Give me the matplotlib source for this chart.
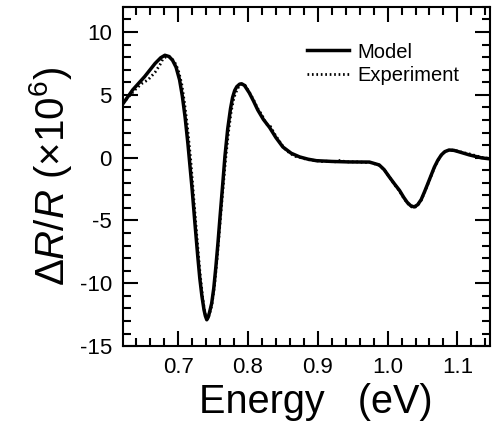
import matplotlib
matplotlib.use('Agg')
import matplotlib.pyplot as plt
from matplotlib.ticker import MultipleLocator

plt.rcParams['font.family'] = ['Liberation Sans', 'DejaVu Sans']
plt.rcParams['mathtext.fontset'] = 'custom'
plt.rcParams['mathtext.rm'] = 'Liberation Sans'
plt.rcParams['mathtext.it'] = 'Liberation Sans:italic'
plt.rcParams['axes.unicode_minus'] = False

# model curve (eV, dR/R x1e6)
energy_model = [0.621, 0.635, 0.652, 0.667, 0.675, 0.681, 0.687, 0.692, 0.697, 0.702,
                0.706, 0.710, 0.714, 0.720, 0.724, 0.728, 0.731, 0.734, 0.737, 0.739,
                0.741, 0.743, 0.745, 0.748, 0.751, 0.754, 0.757, 0.760, 0.764, 0.767,
                0.771, 0.775, 0.778, 0.781, 0.784, 0.788, 0.791, 0.795, 0.802, 0.808,
                0.814, 0.822, 0.831, 0.840, 0.850, 0.862, 0.874, 0.886, 0.898, 0.920,
                0.945, 0.974, 0.988, 0.995, 1.002, 1.010, 1.017, 1.023, 1.028, 1.033,
                1.038, 1.043, 1.048, 1.053, 1.057, 1.062, 1.067, 1.072, 1.077, 1.082,
                1.088, 1.095, 1.102, 1.117, 1.135, 1.147]
dr_model = [4.3, 5.4, 6.45, 7.5, 7.95, 8.15, 8.05, 7.75, 7.2, 6.2,
            4.9, 3.2, 1.1, -2.5, -5.2, -7.8, -9.6, -11.0, -12.1, -12.6,
            -12.9, -12.7, -12.3, -11.6, -10.4, -8.7, -6.8, -4.7, -2.0, 0.1,
            2.3, 3.9, 4.8, 5.35, 5.65, 5.85, 5.88, 5.75, 5.15, 4.5,
            3.8, 3.05, 2.4, 1.6, 0.85, 0.35, 0.06, -0.12, -0.24, -0.3,
            -0.34, -0.35, -0.58, -0.95, -1.5, -2.1, -2.6, -3.15, -3.55, -3.82,
            -3.92, -3.75, -3.35, -2.7, -2.15, -1.45, -0.75, -0.2, 0.22, 0.48,
            0.61, 0.58, 0.47, 0.22, -0.02, -0.1]

# experimental data
energy_exp = [0.621, 0.630, 0.640, 0.648, 0.657, 0.667, 0.674, 0.678, 0.683, 0.689,
              0.695, 0.700, 0.705, 0.709, 0.713, 0.718, 0.722, 0.727, 0.731, 0.735,
              0.738, 0.741, 0.744, 0.748, 0.752, 0.756, 0.760, 0.764, 0.768, 0.772,
              0.776, 0.780, 0.785, 0.790, 0.796, 0.802, 0.808, 0.814, 0.820, 0.826,
              0.832, 0.838, 0.845, 0.852, 0.860, 0.868, 0.876, 0.885, 0.895, 0.905,
              0.915, 0.925, 0.933, 0.938, 0.945, 0.955, 0.965, 0.975, 0.988, 0.995,
              1.002, 1.010, 1.017, 1.023, 1.028, 1.033, 1.038, 1.043, 1.048, 1.053,
              1.057, 1.062, 1.067, 1.072, 1.077, 1.082, 1.088, 1.095, 1.102, 1.110,
              1.117, 1.125, 1.135, 1.147]
dr_exp = [4.35, 4.9, 5.5, 5.9, 6.2, 6.8, 7.4, 7.85, 8.05, 8.0,
          7.6, 7.0, 5.9, 4.4, 2.6, -0.2, -3.0, -6.4, -9.0, -11.1,
          -12.3, -12.85, -12.6, -11.8, -10.2, -7.9, -5.2, -2.6, -0.1, 2.0,
          3.7, 4.8, 5.5, 5.85, 5.75, 5.2, 4.6, 3.9, 3.4, 2.7,
          2.5, 1.9, 1.3, 0.75, 0.35, 0.1, 0.0, -0.15, -0.22, -0.3,
          -0.28, -0.33, -0.2, -0.3, -0.34, -0.33, -0.37, -0.38, -0.6, -0.95,
          -1.5, -2.15, -2.65, -3.2, -3.6, -3.88, -4.0, -3.8, -3.4, -2.75,
          -2.2, -1.5, -0.8, -0.25, 0.2, 0.47, 0.6, 0.6, 0.5, 0.38,
          0.3, 0.18, 0.02, -0.08]

fig = plt.figure(figsize=(5.01, 4.30), dpi=100)
ax = fig.add_axes([0.2455, 0.195, 0.733, 0.789])

ax.plot(energy_model, dr_model, color='black', linewidth=2.5, label='Model')
ax.plot(energy_exp, dr_exp, color='black', linewidth=2.0, linestyle=(0, (0.6, 1.0)),
        label='Experiment')

ax.set_xlim(0.621, 1.147)
ax.set_ylim(-15, 12)
ax.xaxis.set_minor_locator(MultipleLocator(0.02))
ax.yaxis.set_minor_locator(MultipleLocator(1))
ax.set_xticks([0.7, 0.8, 0.9, 1.0, 1.1])
ax.set_xticklabels(['0.7', '0.8', '0.9', '1.0', '1.1'])
ax.set_yticks([-15, -10, -5, 0, 5, 10])

ax.tick_params(which='both', direction='in', top=True, right=True, width=1.5, labelsize=16)
ax.tick_params(which='major', length=11, pad=8)
ax.tick_params(which='minor', length=6)
for s in ax.spines.values():
    s.set_linewidth(1.5)

ax.set_xlabel('Energy   (eV)', fontsize=28.5)
ax.xaxis.set_label_coords(0.525, -0.11, transform=ax.transAxes)
ax.xaxis.label.set_verticalalignment('top')
ax.set_ylabel(r'$\Delta\mathit{R/R}$ (×10$^6$)', fontsize=29, labelpad=4)

ax.legend(loc='upper left', bbox_to_anchor=(0.5, 0.895), frameon=False, fontsize=14.5,
          handlelength=2.1, handletextpad=0.4, labelspacing=0.22,
          borderpad=0, borderaxespad=0)

fig.savefig('out.png', dpi=100)
